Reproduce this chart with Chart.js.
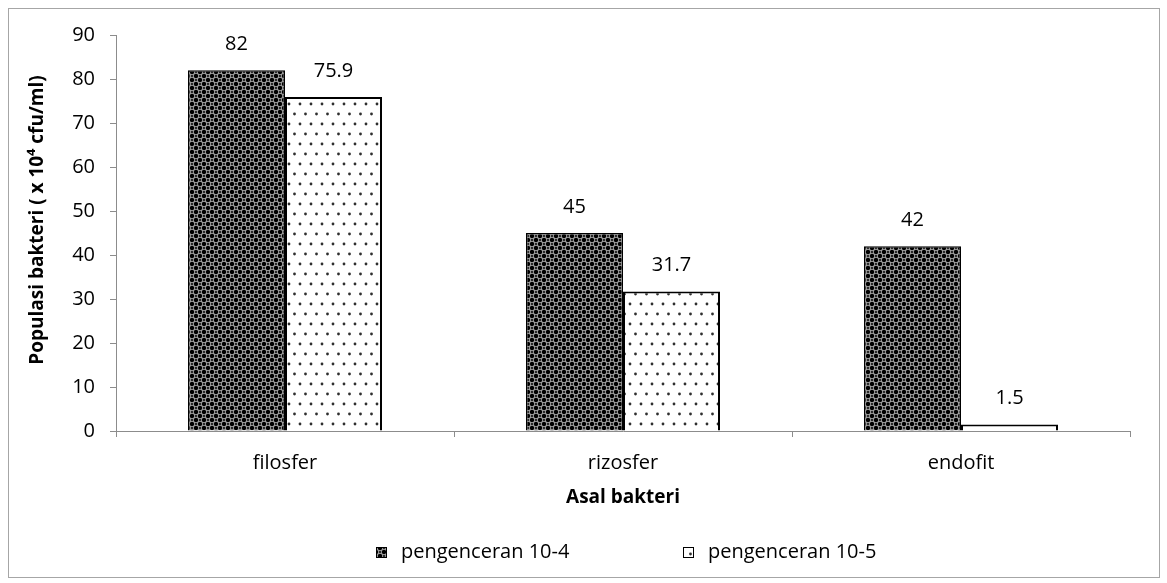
<!DOCTYPE html>
<html>
<head>
<meta charset="utf-8">
<script src="https://cdn.jsdelivr.net/npm/chart.js@4.4.1/dist/chart.umd.min.js"></script>
<style>
  html, body { margin:0; padding:0; background:#fff; }
  #wrap { position:relative; width:1167px; height:583px; }
  #frame { position:absolute; left:8px; top:8px; width:1150px; height:568px; border:1px solid #a6a6a6; pointer-events:none; }
  canvas { position:absolute; left:0; top:0; }
</style>
</head>
<body>
<div id="wrap">
  <canvas id="chart" width="1167" height="583"></canvas>
  <div id="frame"></div>
</div>
<script>
// ── Data ──────────────────────────────────────────────────────
const categories = ['filosfer', 'rizosfer', 'endofit'];
const seriesNames = ['pengenceran 10-4', 'pengenceran 10-5'];
const dil4 = [82, 45, 42];
const dil5 = [75.9, 31.7, 1.5];
const yTicks = { min:0, max:90, step:10 };

const FONT = '"Open Sans", "DejaVu Sans", sans-serif';

// ── Fill patterns ─────────────────────────────────────────────
function darkPattern(ctx) {
  const t = document.createElement('canvas'); t.width = 8; t.height = 8;
  const c = t.getContext('2d');
  c.fillStyle = '#000'; c.fillRect(0, 0, 8, 8);
  c.strokeStyle = '#a8a8a8'; c.lineWidth = 1;
  [[0,0],[8,0],[0,8],[8,8],[4,4]].forEach(([x,y]) => {
    c.beginPath(); c.arc(x, y, 2.8, 0, Math.PI*2); c.stroke();
  });
  return ctx.createPattern(t, 'repeat');
}
function dotPattern(ctx) {
  const t = document.createElement('canvas'); t.width = 11; t.height = 20;
  const c = t.getContext('2d');
  c.fillStyle = '#fff'; c.fillRect(0, 0, 11, 20);
  c.fillStyle = '#2e2e2e';
  [[3,4],[8.5,14]].forEach(([x,y]) => {
    c.beginPath(); c.arc(x, y, 1.4, 0, Math.PI*2); c.fill();
  });
  return ctx.createPattern(t, 'repeat');
}

const canvas = document.getElementById('chart');
const ctx = canvas.getContext('2d');
const fills = [darkPattern(ctx), dotPattern(ctx)];

// ── Plugins: value labels, axis titles, legend ────────────────
const valueLabels = {
  id:'valueLabels',
  afterDatasetsDraw(chart) {
    const c = chart.ctx;
    c.save();
    c.font = `20px ${FONT}`; c.fillStyle = '#000';
    c.textAlign = 'center'; c.textBaseline = 'middle';
    chart.data.datasets.forEach((ds, i) => {
      chart.getDatasetMeta(i).data.forEach((bar, j) => {
        c.fillText(String(ds.data[j]), bar.x, bar.y - 26);
      });
    });
    c.restore();
  }
};

const titlesAndLegend = {
  id:'titlesAndLegend',
  afterDraw(chart) {
    const c = chart.ctx;
    c.save();
    c.fillStyle = '#000';
    c.textBaseline = 'middle';
    // y title
    c.save();
    c.translate(38, 220); c.rotate(-Math.PI/2);
    c.font = `bold 19px ${FONT}`; c.textAlign = 'center';
    c.fillText('Populasi bakteri ( x 10\u2074 cfu/ml)', 0, 0);
    c.restore();
    // x title
    c.font = `bold 19px ${FONT}`; c.textAlign = 'center';
    c.fillText('Asal bakteri', (chart.chartArea.left + chart.chartArea.right) / 2, 498);
    // legend
    c.font = `20px ${FONT}`; c.textAlign = 'left';
    const pos = [376, 683];
    seriesNames.forEach((name, i) => {
      const x = pos[i], y = 552;
      c.fillStyle = fills[i];
      c.fillRect(x, y - 5, 11, 11);
      c.strokeStyle = '#000'; c.lineWidth = 1;
      c.strokeRect(x + 0.5, y - 4.5, 10, 10);
      c.fillStyle = '#000';
      c.fillText(name, x + 25, y);
    });
    c.restore();
  }
};

// ── Chart ─────────────────────────────────────────────────────
new Chart(ctx, {
  type:'bar',
  data:{
    labels:categories,
    datasets:[
      { label:seriesNames[0], data:dil4, backgroundColor:fills[0], borderColor:'#000', borderWidth:1.5 },
      { label:seriesNames[1], data:dil5, backgroundColor:fills[1], borderColor:'#000', borderWidth:2 },
    ]
  },
  options:{
    responsive:false, animation:false,
    layout:{ padding:{ left:0, top:35, right:37, bottom:0 } },
    datasets:{ bar:{ categoryPercentage:0.574, barPercentage:1 } },
    plugins:{ legend:{ display:false }, tooltip:{ enabled:false } },
    scales:{
      x:{
        grid:{ offset:true, drawOnChartArea:false, tickLength:6, color:'#8c8c8c' },
        border:{ color:'#8c8c8c' },
        ticks:{ color:'#000', font:{ family:FONT, size:20 }, padding:14 },
        afterFit:s => { s.height = 152; },
      },
      y:{
        min:yTicks.min, max:yTicks.max,
        ticks:{ stepSize:yTicks.step, color:'#000', font:{ family:FONT, size:20 }, padding:15 },
        grid:{ drawOnChartArea:false, tickLength:6, color:'#8c8c8c' },
        border:{ color:'#8c8c8c' },
        afterFit:s => { s.width = 116; },
      }
    }
  },
  plugins:[valueLabels, titlesAndLegend]
});
</script>
</body>
</html>
